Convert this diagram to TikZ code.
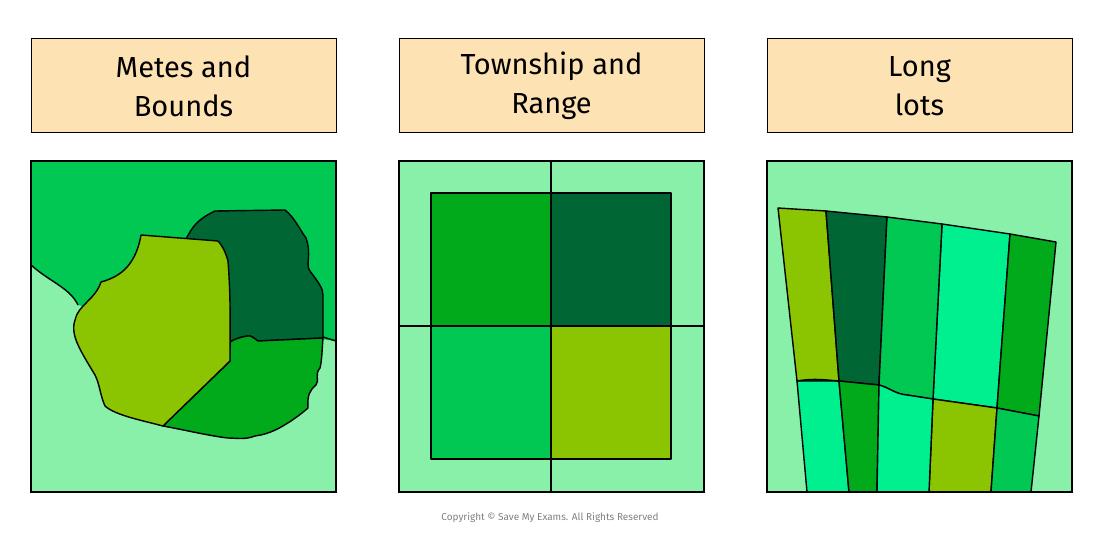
\documentclass[tikz,border=0pt]{standalone}
\usepackage{fontspec}
\setmainfont{Fira Sans}
\definecolor{peach}{RGB}{253,226,180}
\definecolor{paleg}{RGB}{136,240,168}
\definecolor{midg}{RGB}{0,200,83}
\definecolor{darkg}{RGB}{0,102,51}
\definecolor{grassg}{RGB}{0,170,26}
\definecolor{limeg}{RGB}{139,196,0}
\definecolor{mintg}{RGB}{0,240,144}
\tikzset{
  header/.style={draw, fill=peach, line width=1pt, minimum width=305pt, minimum height=94pt,
    align=center, font=\fontsize{29}{39}\selectfont, inner sep=0pt},
  lot/.style={draw, line width=1.4pt, line join=round},
  frame/.style={draw, line width=1.2pt}
}
\begin{document}
\begin{tikzpicture}[x=1pt,y=-1pt]
    \useasboundingbox (0,0) rectangle (1100,540);

    % headers
    \node[header] (hm) at (183.5,86) {Metes and\\Bounds};
    \node[header] (ht) at (551.5,86) {Township and\\Range};
    \node[header] (hl) at (919.5,86) {Long\\lots};

    % Metes and Bounds
    \fill[paleg] (31,161) rectangle (336,492);
    \fill[midg] (31,161) -- (336,161) -- (336,341) -- (250,330) -- (100,312) -- (78,305)
        .. controls (70,288) and (50,282) .. (31,265) -- cycle;
    \draw[lot] (31,265) .. controls (50,282) and (70,288) .. (78,305);
    \draw[lot] (323,337) -- (336,341);
    \draw[lot, fill=darkg] (186,239) .. controls (192,228) and (196,220) .. (215,211)
        -- (285,210) .. controls (295,218) and (300,230) .. (306,238)
        .. controls (312,255) and (305,265) .. (310,271)
        .. controls (318,282) and (323,288) .. (323,295) -- (323,338)
        -- (258,341) .. controls (254,338) and (250,335) .. (248,336)
        .. controls (240,337) and (235,339) .. (230,342) -- cycle;
    \draw[lot, fill=grassg] (230,342) .. controls (235,339) and (240,337) .. (248,336)
        .. controls (250,335) and (254,338) .. (258,341) -- (323,338)
        .. controls (322,350) and (322,360) .. (320,368)
        .. controls (314,375) and (320,380) .. (316,385)
        .. controls (310,390) and (307,395) .. (308,408)
        .. controls (300,415) and (295,418) .. (291,421)
        .. controls (280,428) and (270,434) .. (255,436)
        .. controls (245,440) and (235,438) .. (228,438)
        .. controls (210,436) and (185,430) .. (163,426)
        -- (230,361) -- cycle;
    \draw[lot, fill=limeg] (141,235) -- (218,241) .. controls (224,248) and (226,254) .. (228,261)
        .. controls (231,300) and (230,330) .. (230,361) -- (163,426)
        .. controls (140,420) and (115,415) .. (105,406)
        .. controls (100,395) and (100,385) .. (95,375)
        .. controls (80,350) and (70,335) .. (75,320)
        .. controls (78,305) and (95,300) .. (101,282)
        .. controls (115,278) and (135,270) .. (141,235) -- cycle;
    \draw[frame] (31,161) rectangle (336,492);

    % Township and Range
    \fill[paleg] (399,161) rectangle (704,492);
    \fill[grassg] (431,193) rectangle (551,326);
    \fill[darkg] (551,193) rectangle (671,326);
    \fill[midg] (431,326) rectangle (551,459);
    \fill[limeg] (551,326) rectangle (671,459);
    \draw[lot] (431,193) rectangle (671,459);
    \draw[lot] (551,161) -- (551,492);
    \draw[lot] (399,326) -- (704,326);
    \draw[frame] (399,161) rectangle (704,492);

    % Long lots
    \fill[paleg] (767,161) rectangle (1072,492);
    \foreach \xa/\ya/\xb/\yb/\xc/\yc/\xd/\yd/\col in {
        778/208/826/211/839/381/797/381/limeg,
        826/211/887/217/879/385/839/381/darkg,
        942/224/1010/234/997/408/933/399/mintg,
        1010/234/1056/242/1039/416/997/408/grassg,
        797/381/839/381/849/492/807/492/mintg,
        839/381/879/385/877/492/849/492/grassg,
        933/399/997/408/991/492/929/492/limeg,
        997/408/1039/416/1031/492/991/492/midg}
      \draw[lot, fill=\col] (\xa,\ya) -- (\xb,\yb) -- (\xc,\yc) -- (\xd,\yd) -- cycle;
    \draw[lot, fill=midg] (887,217) -- (942,224) -- (933,399) -- (907,395)
        .. controls (895,394) and (890,388) .. (879,385) -- cycle;
    \draw[lot, fill=mintg] (879,385) .. controls (890,388) and (895,394) .. (907,395)
        -- (933,399) -- (929,492) -- (877,492) -- cycle;
    \draw[lot] (797,381) .. controls (815,378) and (825,380) .. (839,381);
    \draw[frame] (767,161) rectangle (1072,492);

    % footer
    \node[text=gray, font=\fontsize{10}{12}\selectfont] (copy) at (550,518)
        {Copyright © Save My Exams. All Rights Reserved};
\end{tikzpicture}
\end{document}
